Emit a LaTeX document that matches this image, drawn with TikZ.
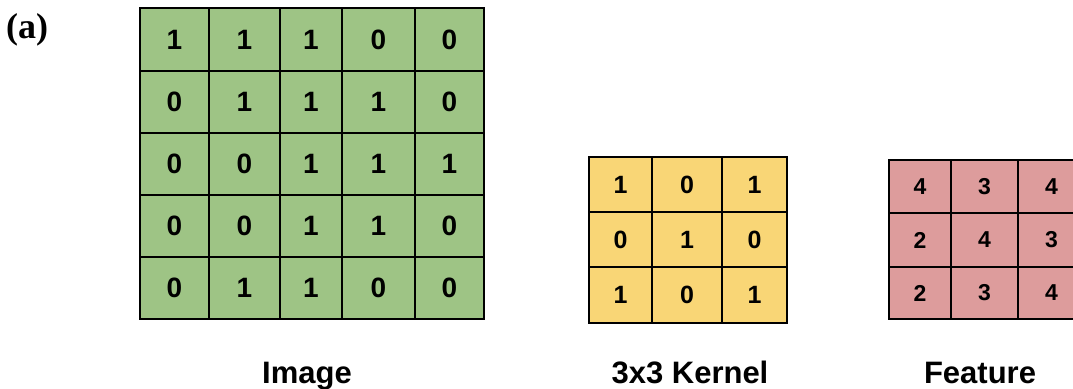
\documentclass[tikz,border=0pt]{standalone}
\usepackage{fontspec}
\setmainfont{Liberation Sans}
\newfontfamily\serifb{Liberation Serif}
\definecolor{imggreen}{RGB}{158,196,133}
\definecolor{kernyellow}{RGB}{249,214,118}
\definecolor{featpink}{RGB}{221,156,156}
\tikzset{
  cellbox/.style={draw=black, line width=1.3pt, inner sep=0pt},
  imgcell/.style={cellbox, fill=imggreen, font=\fontsize{28}{28}\selectfont\bfseries},
  kerncell/.style={cellbox, fill=kernyellow, font=\fontsize{25}{25}\selectfont\bfseries},
  featcell/.style={cellbox, fill=featpink, font=\fontsize{23}{23}\selectfont\bfseries},
  caption/.style={font=\fontsize{31}{31}\selectfont\bfseries, anchor=base, inner sep=0pt},
}
\begin{document}
\begin{tikzpicture}[x=1pt,y=-1pt]
\useasboundingbox (0,0) rectangle (1073,388);
\begin{scope}
\clip (0,0) rectangle (1073,388);
% Image grid
\foreach \ya/\yb/\r/\va/\vb/\vc/\vd/\ve in {8/71/1/1/1/1/0/0, 71/133/2/0/1/1/1/0, 133/195/3/0/0/1/1/1, 195/257/4/0/0/1/1/0, 257/319/5/0/1/1/0/0}{
  \foreach \xa/\xb/\c/\v in {140/209/1/\va, 209/280/2/\vb, 280/342/3/\vc, 342/415/4/\vd, 415/484/5/\ve}{
    \pgfmathsetmacro\w{\xb-\xa}
    \pgfmathsetmacro\h{\yb-\ya}
    \node[imgcell, minimum width=\w pt, minimum height=\h pt] (img-\r-\c) at ({(\xa+\xb)/2},{(\ya+\yb)/2}) {\v};
  }
}
% Kernel grid
\foreach \ya/\yb/\r/\va/\vb/\vc in {157/212/1/1/0/1, 212/267/2/0/1/0, 267/323/3/1/0/1}{
  \foreach \xa/\xb/\c/\v in {589/652/1/\va, 652/722/2/\vb, 722/787/3/\vc}{
    \pgfmathsetmacro\w{\xb-\xa}
    \pgfmathsetmacro\h{\yb-\ya}
    \node[kerncell, minimum width=\w pt, minimum height=\h pt] (ker-\r-\c) at ({(\xa+\xb)/2},{(\ya+\yb)/2}) {\v};
  }
}
% Feature grid
\foreach \ya/\yb/\r/\va/\vb/\vc in {160/213/1/4/3/4, 213/267/2/2/4/3, 267/319/3/2/3/4}{
  \foreach \xa/\xb/\c/\v in {889/951/1/\va, 951/1018/2/\vb, 1018/1085/3/\vc}{
    \pgfmathsetmacro\w{\xb-\xa}
    \pgfmathsetmacro\h{\yb-\ya}
    \node[featcell, minimum width=\w pt, minimum height=\h pt] (feat-\r-\c) at ({(\xa+\xb)/2},{(\ya+\yb)/2}) {\v};
  }
}
\end{scope}
% Captions
\node[caption] (capimg) at (307,383) {Image};
\node[caption] (capker) at (690,383) {3x3 Kernel};
\node[caption] (capfeat) at (980,383) {Feature};
% Panel label
\node[font=\serifb\fontsize{36}{36}\selectfont\bfseries, anchor=base west, inner sep=0pt] (panel) at (6,38) {(a)};
\end{tikzpicture}
\end{document}
